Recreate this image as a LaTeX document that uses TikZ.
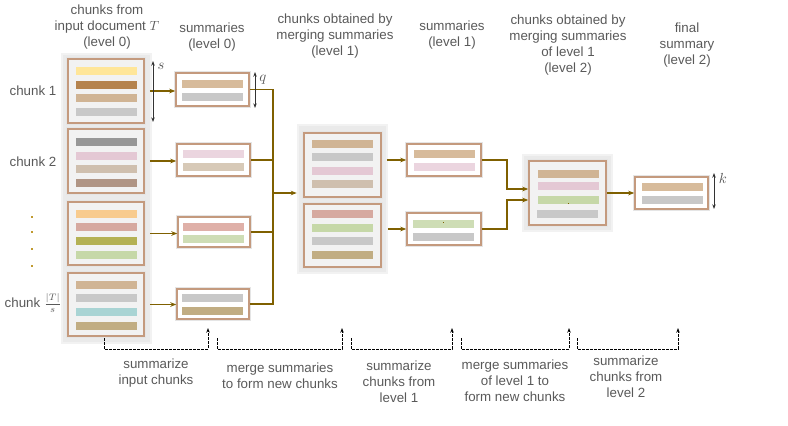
\documentclass[tikz,border=0pt]{standalone}
\usepackage{fontspec}
\setmainfont{Liberation Sans}
\usetikzlibrary{fit,arrows.meta,calc}
\definecolor{txt}{HTML}{595959}
\definecolor{gold}{HTML}{7F6000}
\definecolor{dotc}{HTML}{C09A30}
\definecolor{bord}{HTML}{C49A7E}
\definecolor{panelc}{HTML}{EAEAEA}
\definecolor{boxc}{HTML}{F2F2F2}
% bar colours
\definecolor{cYel}{HTML}{FFE699}
\definecolor{cBrn}{HTML}{B5834E}
\definecolor{cTan}{HTML}{D0B494}
\definecolor{cTanL}{HTML}{D7BB9B}
\definecolor{cGry}{HTML}{C8C8C8}
\definecolor{cDGry}{HTML}{979797}
\definecolor{cPnk}{HTML}{E4C8D4}
\definecolor{cPnkL}{HTML}{EBD5DF}
\definecolor{cBeig}{HTML}{CFBFAE}
\definecolor{cBeigL}{HTML}{D7C9B7}
\definecolor{cMauv}{HTML}{B09585}
\definecolor{cOra}{HTML}{F8CB8E}
\definecolor{cRose}{HTML}{D6A9A0}
\definecolor{cRoseL}{HTML}{DFB0A8}
\definecolor{cOliv}{HTML}{B4B154}
\definecolor{cGrn}{HTML}{C6D8A8}
\definecolor{cGrnL}{HTML}{CEDDB5}
\definecolor{cTeal}{HTML}{A9D4D4}
\definecolor{cKhk}{HTML}{C1AD83}
\newcommand\mybar[3]{\fill[#3] (#1,#2) rectangle +(61,8);}
\begin{document}
\begin{tikzpicture}[x=0.75pt,y=-0.75pt,
  panel/.style={fill=panelc,draw=panelc!60!white,line width=2pt,inner sep=0pt},
  chunkbox/.style={fill=boxc,draw=bord,line width=1.2pt,inner sep=0pt,
     preaction={draw=black!10,line width=3pt}},
  sumbox/.style={fill=white,draw=bord,line width=1.2pt,inner sep=0pt,
     preaction={draw=black!10,line width=3.5pt}},
  title/.style={text=txt,align=center,font=\fontsize{10}{12}\selectfont},
  conn/.style={draw=gold,line width=0.9pt,-{Stealth[length=4.5pt,width=3.5pt]}},
  gline/.style={draw=gold,line width=0.9pt},
  dim/.style={draw=black!80,line width=0.6pt,{Stealth[length=3.5pt,width=2.6pt]}-{Stealth[length=3.5pt,width=2.6pt]}},
  dsh/.style={draw=black,line width=0.6pt,dash pattern=on 2pt off 1pt,-{Stealth[length=3.5pt,width=2.6pt]}},
  dimlab/.style={text=txt,font=\fontsize{11}{12}\selectfont,inner sep=0pt}
]
\useasboundingbox (0,0) rectangle (788,425);

% ---------- panels ----------
\node[panel,fit={(62,54)(151,343)}] (P0) {};
\node[panel,fit={(298,125)(387,273)}] (P1) {};
\node[panel,fit={(523,155)(612,231)}] (P2) {};

% ---------- level 0 chunks ----------
\node[chunkbox,fit={(68,59)(144,123)}] (c1) {};
\mybar{76}{67}{cYel}\mybar{76}{81}{cBrn}\mybar{76}{94}{cTan}\mybar{76}{108}{cGry}
\node[chunkbox,fit={(68,129)(144,193)}] (c2) {};
\mybar{76}{138}{cDGry}\mybar{76}{152}{cPnk}\mybar{76}{165}{cBeig}\mybar{76}{179}{cMauv}
\node[chunkbox,fit={(68,202)(144,265)}] (c3) {};
\mybar{76}{210}{cOra}\mybar{76}{223}{cRose}\mybar{76}{237}{cOliv}\mybar{76}{251}{cGrn}
\node[chunkbox,fit={(68,273)(144,336)}] (c4) {};
\mybar{76}{281}{cTan}\mybar{76}{294}{cGry}\mybar{76}{308}{cTeal}\mybar{76}{322}{cKhk}

% ---------- level 0 summaries ----------
\node[sumbox,fit={(176,73)(249,106)}] (s1) {};
\mybar{182}{80}{cTanL}\mybar{182}{93}{cGry}
\node[sumbox,fit={(177,144)(250,176)}] (s2) {};
\mybar{183}{150}{cPnkL}\mybar{183}{163}{cBeigL}
\node[sumbox,fit={(178,217)(250,247)}] (s3) {};
\mybar{183}{223}{cRoseL}\mybar{183}{235}{cGrnL}
\node[sumbox,fit={(177,289)(249,319)}] (s4) {};
\mybar{182}{294}{cGry}\mybar{182}{307}{cKhk}

% ---------- level 1 chunks ----------
\node[chunkbox,fit={(304,133)(381,197)}] (cA) {};
\mybar{312}{140}{cTan}\mybar{312}{153}{cGry}\mybar{312}{167}{cPnk}\mybar{312}{180}{cBeig}
\node[chunkbox,fit={(304,204)(381,267)}] (cB) {};
\mybar{312}{210}{cRose}\mybar{312}{224}{cGrn}\mybar{312}{237}{cGry}\mybar{312}{251}{cKhk}

% ---------- level 1 summaries ----------
\node[sumbox,fit={(407,144)(481,176)}] (sA) {};
\mybar{414}{150}{cTanL}\mybar{414}{163}{cPnkL}
\node[sumbox,fit={(407,213)(481,245)}] (sB) {};
\mybar{413}{220}{cGrnL}\mybar{413}{233}{cGry}
\fill[gold] (442.5,221.5) rectangle +(1.5,1.5);

% ---------- level 2 chunk ----------
\node[chunkbox,fit={(529,161)(606,225)}] (L2) {};
\mybar{538}{170}{cTan}\mybar{538}{182}{cPnk}\mybar{538}{196}{cGrn}\mybar{537}{210}{cGry}
\fill[gold] (567.5,202.5) rectangle +(1.5,1.5);

% ---------- final summary ----------
\node[sumbox,fit={(635,177)(708,209)}] (F) {};
\mybar{642}{183}{cTanL}\mybar{642}{196}{cGry}

% ---------- titles ----------
\node[title] (t0) at (107,27) {chunks from\\input document $T$\\(level 0)};
\node[title] (t1) at (212,37) {summaries\\(level 0)};
\node[title] (t2) at (335,36.5) {chunks obtained by\\merging summaries\\(level 1)};
\node[title] (t3) at (452,35) {summaries\\(level 1)};
\node[title] (t4) at (568,45.5) {chunks obtained by\\merging summaries\\of level 1\\(level 2)};
\node[title] (t5) at (687,45) {final\\summary\\(level 2)};

% ---------- side labels ----------
\node[title] (l1) at (33,91) {chunk 1};
\node[title] (l2) at (33,162) {chunk 2};
\node[title] (l4) at (33,303) {chunk $\frac{|T|}{s}$};
\foreach \yy in {216,231,248,265} \fill[dotc] (31,\yy) rectangle +(2,2);

% ---------- connectors level 0 ----------
\draw[conn] ([xshift=3.75pt]c1.east) -- (c1.east -| s1.west);
\draw[conn] ([xshift=3.75pt]c2.east) -- (c2.east -| s2.west);
\draw[conn] ([xshift=3.75pt]c3.east) -- (c3.east -| s3.west);
\draw[conn] ([xshift=3.75pt]c4.east) -- (c4.east -| s4.west);
\coordinate (j0) at (273,193);
\draw[gline] (s1.east) -| (j0);
\draw[gline] (s2.east) -| (j0);
\draw[gline] (s3.east) -| (j0);
\draw[gline] (s4.east) -| (j0);
\draw[conn] (j0) -- (j0 -| P1.west);

% ---------- connectors level 1 ----------
\draw[conn] ([xshift=3.75pt]sA.west -| cA.east) -- (sA.west);
\draw[conn] ([xshift=4.5pt]sB.west -| cB.east) -- (sB.west);
\coordinate (jA) at (507,189);
\coordinate (jB) at (507,200);
\draw[conn] (sA.east) -| (jA) -- (jA -| L2.west);
\draw[conn] (sB.east) -| (jB) -- (jB -| L2.west);
\draw[conn] (L2.east) -- (F.west);

% ---------- dimension arrows ----------
\coordinate (sT) at (153,61); \coordinate (sB2) at (153,122);
\draw[dim] (sT) -- (sB2);
\node[dimlab] (sl) at (161,66) {$s$};
\coordinate (qT) at (255,72); \coordinate (qB) at (255,108);
\draw[dim] (qT) -- (qB);
\node[dimlab] (ql) at (263,80) {$q$};
\coordinate (kT) at (714,173); \coordinate (kB) at (714,209);
\draw[dim] (kT) -- (kB);
\node[dimlab] (kl) at (723,178) {$k$};

% ---------- dashed brackets ----------
\coordinate (d1a) at (104,338); \coordinate (d1b) at (104,349);
\coordinate (d1c) at (208,349); \coordinate (d1d) at (208,328);
\draw[dsh] (d1a) -- (d1b) -- (d1c) -- (d1d);
\coordinate (d2a) at (217,338); \coordinate (d2b) at (217,349);
\coordinate (d2c) at (342,349); \coordinate (d2d) at (342,328);
\draw[dsh] (d2a) -- (d2b) -- (d2c) -- (d2d);
\coordinate (d3a) at (351,338); \coordinate (d3b) at (351,349);
\coordinate (d3c) at (452,349); \coordinate (d3d) at (452,328);
\draw[dsh] (d3a) -- (d3b) -- (d3c) -- (d3d);
\coordinate (d4a) at (461,338); \coordinate (d4b) at (461,349);
\coordinate (d4c) at (569,349); \coordinate (d4d) at (569,328);
\draw[dsh] (d4a) -- (d4b) -- (d4c) -- (d4d);
\coordinate (d5a) at (577,338); \coordinate (d5b) at (577,349);
\coordinate (d5c) at (678,349); \coordinate (d5d) at (678,328);
\draw[dsh] (d5a) -- (d5b) -- (d5c) -- (d5d);

% ---------- bottom labels ----------
\node[title] (b1) at (156,373) {summarize\\input chunks};
\node[title] (b2) at (280,375.5) {merge summaries\\to form new chunks};
\node[title] (b3) at (399,382) {summarize\\chunks from\\level 1};
\node[title] (b4) at (515,380.5) {merge summaries\\of level 1 to\\form new chunks};
\node[title] (b5) at (626,376.5) {summarize\\chunks from\\level 2};
\end{tikzpicture}
\end{document}
